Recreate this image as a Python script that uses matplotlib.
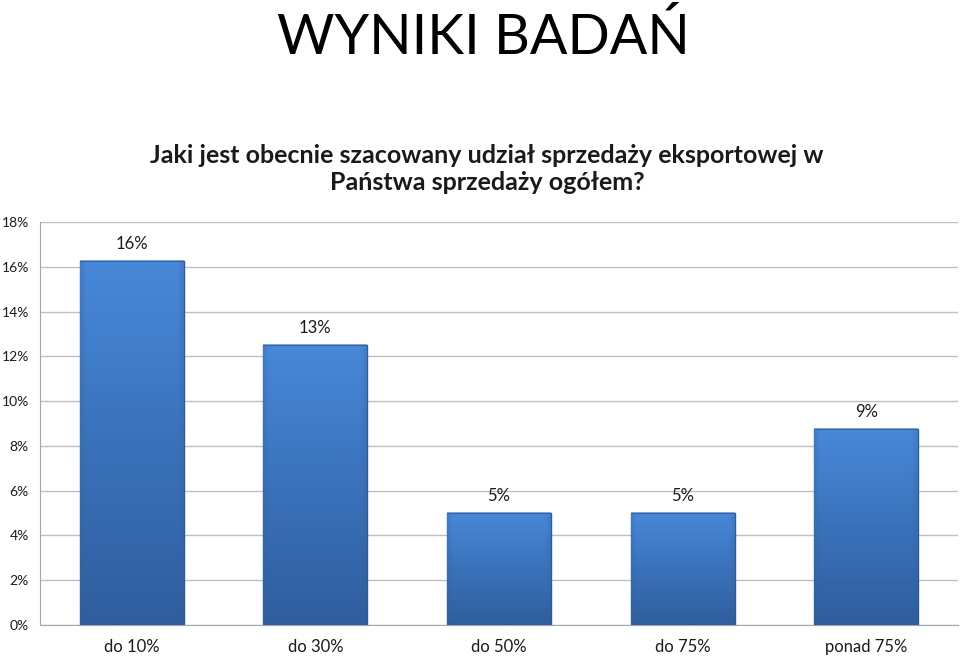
import numpy as np
import matplotlib
matplotlib.use("Agg")
import matplotlib.pyplot as plt
from matplotlib.colors import LinearSegmentedColormap

plt.rcParams['font.family'] = ['Lato', 'DejaVu Sans']

categories = ["do 10%", "do 30%", "do 50%", "do 75%", "ponad 75%"]
values = [16.25, 12.5, 5.0, 5.0, 8.75]
value_labels = ["16%", "13%", "5%", "5%", "9%"]
yticks = [0, 2, 4, 6, 8, 10, 12, 14, 16, 18]
ytick_labels = [f"{t}%" for t in yticks]

title = "WYNIKI BADAŃ"
subtitle = "Jaki jest obecnie szacowany udział sprzedaży eksportowej w\nPaństwa sprzedaży ogółem?"

fig = plt.figure(figsize=(9.6, 6.57), dpi=100)
ax = fig.add_axes([40/960, 1-625/657, 918/960, (625-222)/657])

x = np.arange(len(categories))
width = 0.566
bars = ax.bar(x, values, width=width, color="#3f78c4", edgecolor="#2c5a94", linewidth=1.0, zorder=2)

# gradient fill for each bar
cmap = LinearSegmentedColormap.from_list("g", ["#2f5e9e", "#3a72ba", "#4888d8"])
for b in bars:
    x0, y0 = b.get_x(), b.get_y()
    w, h = b.get_width(), b.get_height()
    ny, nx = 100, 50
    vert = np.linspace(0, 1, ny)[:, None]
    xs = np.linspace(0, 1, nx)[None, :]
    edge = np.clip(np.minimum(xs, 1 - xs) / 0.05, 0, 1)
    grad = vert * (0.75 + 0.25 * edge)
    im = ax.imshow(grad, cmap=cmap, vmin=0, vmax=1, origin="lower",
                   extent=[x0, x0 + w, y0, y0 + h], aspect="auto", zorder=3)
    im.set_clip_path(b)
    ax.plot([x0, x0 + w], [y0 + h, y0 + h], color="#6a9be0", lw=1.2, zorder=4,
            solid_capstyle="butt")
    ax.plot([x0, x0 + w], [y0 + h, y0 + h], color="#2c5a94", lw=0.6, zorder=4)

for xi, v, lab in zip(x, values, value_labels):
    ax.text(xi, v + 0.4, lab, ha="center", va="bottom", fontsize=12, color="#1a1a1a")

ax.set_xlim(-0.5, len(categories) - 0.5)
ax.set_ylim(0, 18)
ax.set_yticks(yticks)
ax.set_yticklabels(ytick_labels, fontsize=10, color="#1a1a1a")
ax.set_xticks(x)
ax.set_xticklabels(categories, fontsize=12, color="#1a1a1a")
ax.tick_params(axis="y", length=0, pad=8)
ax.tick_params(axis="x", length=0, pad=10)
ax.yaxis.grid(True, color="#bfbfbf", linewidth=1.0, zorder=0)
ax.set_axisbelow(True)
for s in ["top", "right"]:
    ax.spines[s].set_visible(False)
ax.spines["left"].set_color("#a6a6a6")
ax.spines["bottom"].set_color("#a6a6a6")

fig.text(483/960, 1 - 38/657, title, ha="center", va="center", fontsize=40, color="#000000")
fig.text(487/960, 1 - 169/657, subtitle, ha="center", va="center", fontsize=18,
         fontweight="bold", color="#1a1a1a", linespacing=1.25)

fig.savefig("out.png", dpi=100)
